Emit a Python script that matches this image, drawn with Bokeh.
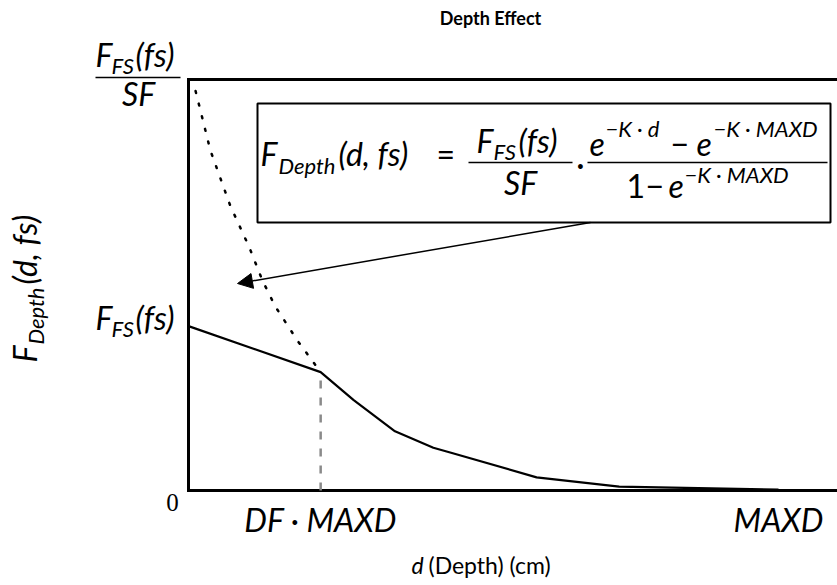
from math import pi

from bokeh.embed import file_html
from bokeh.models import Arrow, BoxAnnotation, Label, NormalHead, Range1d
from bokeh.plotting import figure
from bokeh.resources import INLINE

# Depth in units of MAXD, factor in units of F_FS(fs)
MAXD = 1.0
DF = 0.224

# clamped depth effect (solid curve)
depth = [0.0, 0.224, 0.28, 0.35, 0.415, 0.445, 0.59, 0.73, 1.0]
f_depth = [1.0, 0.72, 0.55, 0.36, 0.26, 0.23, 0.08, 0.024, 0.005]

# unclamped F_FS(fs)/SF * (e^-Kd - e^-K MAXD)/(1 - e^-K MAXD) above DF*MAXD (dotted)
raw_depth = [0.012, 0.037, 0.071, 0.103, 0.125, 0.147, 0.185, 0.224]
raw_f = [2.43, 2.07, 1.73, 1.48, 1.28, 1.12, 0.91, 0.72]

x_ticks = [DF, MAXD]
x_tick_labels = ["DF · MAXD", "MAXD"]

# axes box: x from 0 to X_END, y from 0 to Y_END
X_END, Y_END = 1.1, 2.5

W, H = 837, 585
AX_L, AX_T, AX_B = 188, 79, 490      # where the axes box sits on the canvas
MATH_FONT = "Lato"

px_x = (W - AX_L) / X_END
px_y = (AX_B - AX_T) / Y_END


def dx(px):
    return (px - AX_L) / px_x


def dy(py):
    return (AX_B - py) / px_y


# the plotting area covers the whole canvas so that labels in the margins are drawn
p = figure(width=W, height=H, output_backend="svg", toolbar_location=None,
           x_range=Range1d(dx(0), dx(W)), y_range=Range1d(dy(H), dy(0)),
           min_border=0)
p.axis.visible = False
p.grid.visible = False
p.outline_line_color = None
p.background_fill_color = "white"
p.border_fill_color = "white"

BASE_SHIFT = 0.42   # Label's alphabetic anchor sits this many em above the glyph baseline


def txt(s, px, py, size, style="italic", align="left", angle=0.0, font=MATH_FONT):
    if angle:
        px -= BASE_SHIFT * size
    else:
        py -= BASE_SHIFT * size
    p.add_layout(Label(x=dx(px), y=dy(py), text=s, text_font=font,
                       text_font_size=f"{size}px", text_font_style=style,
                       text_align=align, text_baseline="alphabetic", angle=angle,
                       text_color="black"))


def rule(px0, px1, py, width=1.5):
    p.add_layout(Arrow(x_start=dx(px0), y_start=dy(py), x_end=dx(px1), y_end=dy(py),
                       start=None, end=None, line_width=width, line_color="black"))


# axes box (top, left and bottom edges)
p.line([X_END, 0, 0, X_END], [Y_END, Y_END, 0, 0], line_color="black",
       line_width=3, line_join="miter")

# curves
p.line(raw_depth, raw_f, line_color="black", line_width=2.5, line_dash="2 11",
       line_cap="round")
p.segment(x0=[depth[1]], y0=[0], x1=[depth[1]], y1=[f_depth[1]],
          line_color="#8a8a8a", line_width=2.5, line_dash="8 9")
p.line(depth, f_depth, line_color="black", line_width=2.2)

# formula box and pointer
p.add_layout(BoxAnnotation(left=dx(257), right=dx(830), top=dy(103), bottom=dy(222),
                           fill_color="white", fill_alpha=1.0,
                           line_color="black", line_alpha=1.0, line_width=2))
p.add_layout(Arrow(end=NormalHead(size=15, fill_color="black", line_color="black"),
                   x_start=dx(590), y_start=dy(222), x_end=dx(237), y_end=dy(283),
                   line_width=1.5, line_color="black"))

# formula
txt("F", 260, 166, 32)
txt("Depth", 278, 174, 22)
txt("(d, fs)", 338, 166, 32)
txt("=", 436, 166, 32, style="normal")
txt("F", 476, 153, 32)
txt("FS", 493, 160, 22)
txt("(fs)", 518, 153, 32)
rule(468, 572, 162)
txt("SF", 520, 195, 32, align="center")
txt("·", 580, 176, 32, style="normal", align="center")
txt("e", 589, 157, 32)
txt("−K · d", 605, 137, 22)
txt("−", 670, 157, 32, style="normal")
txt("e", 696, 157, 32)
txt("−K · MAXD", 713, 137, 22)
rule(587, 827, 162)
txt("1", 626, 199, 32, style="normal")
txt("−", 645, 199, 32, style="normal")
txt("e", 668, 199, 32)
txt("−K · MAXD", 684, 183, 22)

# y tick labels
txt("F", 95, 67, 32)
txt("FS", 111, 74, 22)
txt("(fs)", 135, 67, 32)
rule(95, 180, 77)
txt("SF", 138, 106, 32, align="center")
txt("F", 95, 330, 32)
txt("FS", 111, 337, 22)
txt("(fs)", 135, 330, 32)
txt("0", 172, 512, 25, style="normal", align="center", font="Liberation Serif")

# x tick labels
for tick, lab in zip(x_ticks, x_tick_labels):
    p.add_layout(Label(x=tick, y=dy(532 - BASE_SHIFT * 32), text=lab,
                       text_font=MATH_FONT, text_font_size="32px",
                       text_font_style="italic", text_align="center",
                       text_baseline="alphabetic", text_color="black"))

# y title (rotated)
txt("F", 37, 362, 32, angle=pi / 2)
txt("Depth", 44, 344, 22, angle=pi / 2)
txt("(d, fs)", 37, 284, 32, angle=pi / 2)

# x title
txt("d", 411, 574, 23)
txt("(Depth) (cm)", 428, 574, 23, style="normal")

# chart title
txt("Depth Effect", 490, 25, 18, style="bold", align="center")

open("out.html", "w").write(file_html(p, INLINE))
